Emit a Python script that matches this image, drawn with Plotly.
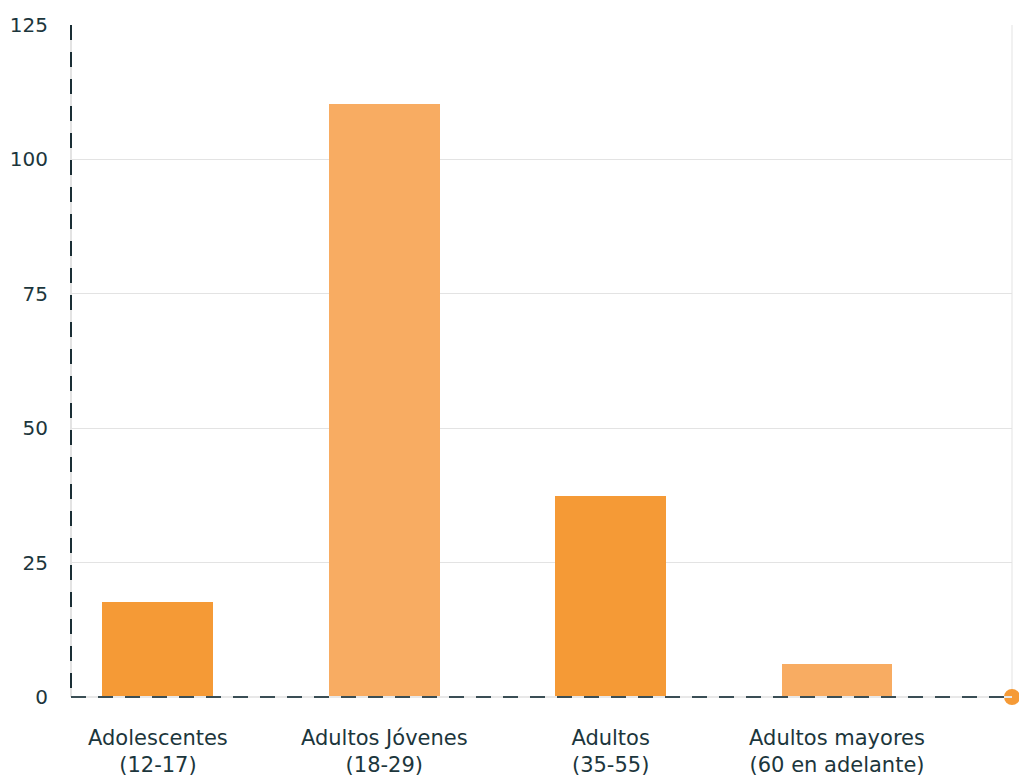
import plotly.graph_objects as go

categories = ["Adolescentes<br>(12-17)", "Adultos Jóvenes<br>(18-29)", "Adultos<br>(35-55)", "Adultos mayores<br>(60 en adelante)"]
values = [17.7, 110.3, 37.4, 6.1]
bar_colors = ["#F59A36", "#F8AC62", "#F59A36", "#F8AC62"]
y_ticks = [0, 25, 50, 75, 100, 125]

text_color = "#1C363C"
axis_color = "#1A2E35"

positions = list(range(len(categories)))
x_min, x_max = -0.384, 3.773

fig = go.Figure()
fig.add_trace(go.Bar(
    x=positions, y=values, width=0.49,
    marker=dict(color=bar_colors, line=dict(width=0)),
    hoverinfo="skip", showlegend=False,
))
fig.add_trace(go.Scatter(
    x=[x_max], y=[0], mode="markers",
    marker=dict(color="#F59A36", size=16),
    cliponaxis=False, showlegend=False, hoverinfo="skip",
))

fig.update_layout(
    width=1019, height=778,
    margin=dict(l=71, r=7, t=25, b=81),
    paper_bgcolor="white", plot_bgcolor="white",
    font=dict(family="DejaVu Sans", size=20, color=text_color),
    bargap=0,
    xaxis=dict(
        range=[x_min, x_max], tickmode="array", tickvals=positions, ticktext=categories,
        showgrid=False, zeroline=False, showline=False, ticks="", automargin=False,
        ticklabelstandoff=26, fixedrange=True, tickfont=dict(size=21),
    ),
    yaxis=dict(
        range=[0, 125], tickvals=y_ticks, showgrid=True, gridcolor="#E3E3E3", gridwidth=1,
        zeroline=False, showline=False, ticks="", ticklabelstandoff=22, fixedrange=True,
        tickfont=dict(size=20), automargin=False,
    ),
    shapes=[
        dict(type="line", xref="paper", yref="paper", x0=0, x1=0, y0=0, y1=1,
             line=dict(color="#E3E3E3", width=2), layer="below"),
        dict(type="line", xref="paper", yref="paper", x0=1, x1=1, y0=0, y1=1,
             line=dict(color="#E3E3E3", width=1), layer="below"),
        dict(type="line", xref="paper", yref="paper", x0=0, x1=1, y0=0, y1=0,
             line=dict(color="#E8E8E8", width=2), layer="above"),
        dict(type="line", xref="paper", yref="paper", x0=0, x1=0, y0=1, y1=0,
             line=dict(color=axis_color, width=2, dash="15px,12px"), layer="above"),
        dict(type="line", xref="paper", yref="paper", x0=0, x1=1, y0=0, y1=0,
             line=dict(color="#3A4E55", width=2, dash="15px,12px"), layer="above"),
    ],
)

fig.write_html("out.html")
